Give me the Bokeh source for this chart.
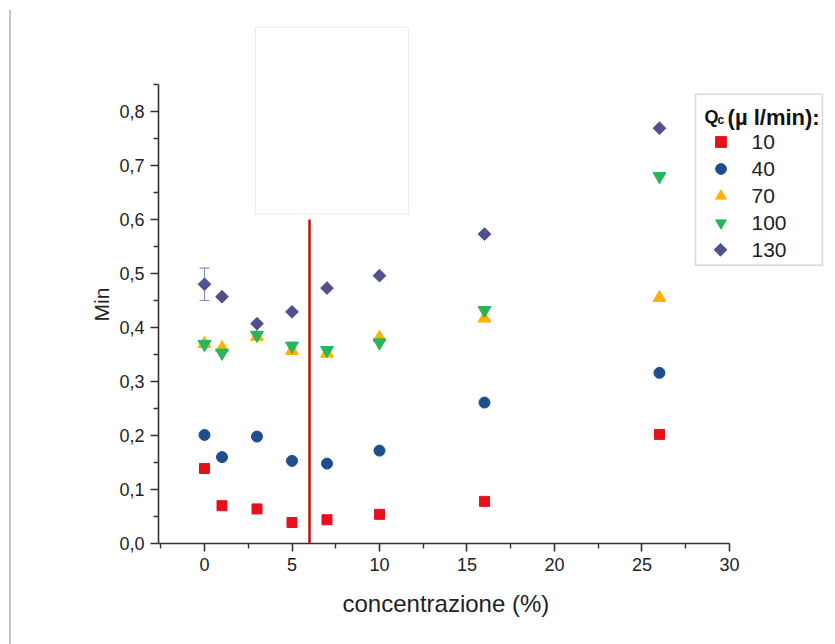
from bokeh.plotting import figure
from bokeh.models import (Range1d, FixedTicker, CustomJSTickFormatter, Label, BoxAnnotation,
                          Legend, LegendItem, ColumnDataSource, Whisker, TeeHead, Title)
from bokeh.embed import file_html
from bokeh.resources import INLINE
import math

# ---- data ----
conc = [0, 1, 3, 5, 7, 10, 16, 26]
q10 = [0.139, 0.070, 0.064, 0.039, 0.044, 0.054, 0.078, 0.202]
q40 = [0.201, 0.160, 0.198, 0.153, 0.148, 0.172, 0.261, 0.316]
q70 = [0.370, 0.362, 0.383, 0.357, 0.352, 0.381, 0.417, 0.455]
q100 = [0.369, 0.353, 0.386, 0.366, 0.358, 0.372, 0.432, 0.680]
q130 = [0.480, 0.457, 0.407, 0.429, 0.473, 0.496, 0.573, 0.769]
err130 = [0.030, 0, 0, 0, 0, 0, 0, 0]
series_labels = ["10", "40", "70", "100", "130"]
legend_title_main = "Q"
legend_title_sub = "c"
legend_title_rest = "(\u00b5 l/min):"
x_title = "concentrazione (%)"
y_title = "Min"
x_ticks = [0, 5, 10, 15, 20, 25, 30]
x_minor = [-2.5, 2.5, 7.5, 12.5, 17.5, 22.5, 27.5]
y_ticks = [0.0, 0.1, 0.2, 0.3, 0.4, 0.5, 0.6, 0.7, 0.8]
y_minor = [0.05, 0.15, 0.25, 0.35, 0.45, 0.55, 0.65, 0.75, 0.85]
threshold_x = 6
threshold_top = 0.6

FONT = "Liberation Sans"
X0, X1 = -2.629, 35.83
Y0, Y1 = 0.0, 0.9722

p = figure(width=820, height=634, output_backend="svg", toolbar_location=None,
           x_range=Range1d(X0, X1), y_range=Range1d(Y0, Y1),
           min_border_left=147, min_border_right=0, min_border_top=8, min_border_bottom=101,
           styles={"margin-left": "11px", "margin-top": "10px",
                   "box-shadow": "-2px 0px 0px 0px #c4c4c4"})
p.outline_line_color = None
p.xgrid.visible = False
p.ygrid.visible = False
p.background_fill_color = "white"
p.border_fill_color = "white"

for ax in (p.xaxis[0], p.yaxis[0]):
    ax.axis_line_color = "#333333"
    ax.axis_line_width = 1.6
    ax.major_tick_line_color = "#333333"
    ax.major_tick_line_width = 1.6
    ax.minor_tick_line_color = "#333333"
    ax.minor_tick_line_width = 1.4
    ax.major_tick_in = 0
    ax.minor_tick_in = 0
    ax.major_tick_out = 8
    ax.minor_tick_out = 5
    ax.major_label_text_font = FONT
    ax.major_label_text_font_size = "18px"
    ax.major_label_text_color = "#222222"
    ax.major_label_standoff = 6

p.xaxis[0].ticker = FixedTicker(ticks=x_ticks, minor_ticks=x_minor)
p.yaxis[0].ticker = FixedTicker(ticks=y_ticks, minor_ticks=y_minor)
p.xaxis[0].bounds = (X0, 30)
p.yaxis[0].bounds = (0, 0.85)
p.yaxis[0].formatter = CustomJSTickFormatter(code="return tick.toFixed(1).replace('.', ',');")
p.xaxis[0].formatter = CustomJSTickFormatter(code="return tick.toFixed(0);")

# axis titles
p.add_layout(Title(text=x_title, align="left", offset=184, vertical_align="top", standoff=32,
                   text_font=FONT, text_font_size="24px", text_font_style="normal",
                   text_color="#222222"), "below")
p.add_layout(Title(text=y_title, align="left", offset=222, vertical_align="bottom", standoff=8,
                   text_font=FONT, text_font_size="21px", text_font_style="normal",
                   text_color="#222222"), "left")

# empty white box
p.add_layout(BoxAnnotation(left=2.914, right=11.657, bottom=0.6098, top=0.956,
                           fill_color="white", fill_alpha=1.0, level="underlay",
                           line_color="#c0c0c0", line_width=1))

# legend frame
p.add_layout(BoxAnnotation(left=28.06, right=35.31, bottom=0.5154, top=0.832,
                           fill_color="white", fill_alpha=1.0, level="underlay",
                           line_color="#808080", line_width=1.5))

# threshold line
p.segment(x0=[threshold_x], y0=[0], x1=[threshold_x], y1=[threshold_top],
          line_color="#cc0000", line_width=2.4)

# error bars
ex = [c for c, e in zip(conc, err130) if e > 0]
ey = [v for v, e in zip(q130, err130) if e > 0]
ee = [e for e in err130 if e > 0]
esrc = ColumnDataSource(dict(x=ex, upper=[a + b for a, b in zip(ey, ee)],
                             lower=[a - b for a, b in zip(ey, ee)]))
p.add_layout(Whisker(source=esrc, base="x", upper="upper", lower="lower",
                     line_color="#8c8cc8", line_width=1.2,
                     upper_head=TeeHead(size=10, line_color="#8c8cc8", line_width=1.2),
                     lower_head=TeeHead(size=10, line_color="#8c8cc8", line_width=1.2)))

colors = ["#e8101c", "#1f4e8f", "#ffb300", "#2bb55a", "#505090"]
r10 = p.scatter(conc, q10, marker="square", size=10, fill_color=colors[0], line_color=colors[0])
r40 = p.scatter(conc, q40, marker="circle", size=11, fill_color=colors[1], line_color=colors[1])
r70 = p.scatter(conc, q70, marker="triangle", size=13, fill_color=colors[2], line_color=colors[2])
r100 = p.scatter(conc, q100, marker="inverted_triangle", size=13, fill_color=colors[3], line_color=colors[3])
r130 = p.scatter(conc, q130, marker="square", angle=math.pi / 4, size=9,
                 fill_color=colors[4], line_color=colors[4])

# legend swatch for the rotated-square (diamond) series
r130_key = p.scatter([], [], marker="square", size=9, fill_alpha=0, line_alpha=0)
p.scatter([29.486], [0.5439], marker="square", angle=math.pi / 4, size=9,
          fill_color=colors[4], line_color=colors[4])

legend = Legend(items=[LegendItem(label=l, renderers=[r]) for l, r in
                       zip(series_labels, [r10, r40, r70, r100, r130_key])],
                location=(548.5, 279.8), orientation="vertical",
                glyph_width=27, glyph_height=27, label_height=27, spacing=0,
                padding=0, margin=0, label_standoff=18,
                label_text_font=FONT, label_text_font_size="21px", label_text_color="#222222",
                border_line_color=None, background_fill_alpha=0.0)
p.add_layout(legend)

p.add_layout(Label(x=28.571, y=0.7889, text=legend_title_main, text_font=FONT,
                   text_font_size="18px", text_font_style="bold", text_color="#111111",
                   text_baseline="alphabetic", text_align="left"))
p.add_layout(Label(x=29.32, y=0.7845, text=legend_title_sub, text_font=FONT,
                   text_font_size="12px", text_font_style="bold", text_color="#111111",
                   text_baseline="alphabetic", text_align="left"))
p.add_layout(Label(x=29.89, y=0.7889, text=legend_title_rest, text_font=FONT,
                   text_font_size="22px", text_font_style="bold", text_color="#111111",
                   text_baseline="alphabetic", text_align="left"))

open("out.html", "w").write(file_html(p, INLINE))
